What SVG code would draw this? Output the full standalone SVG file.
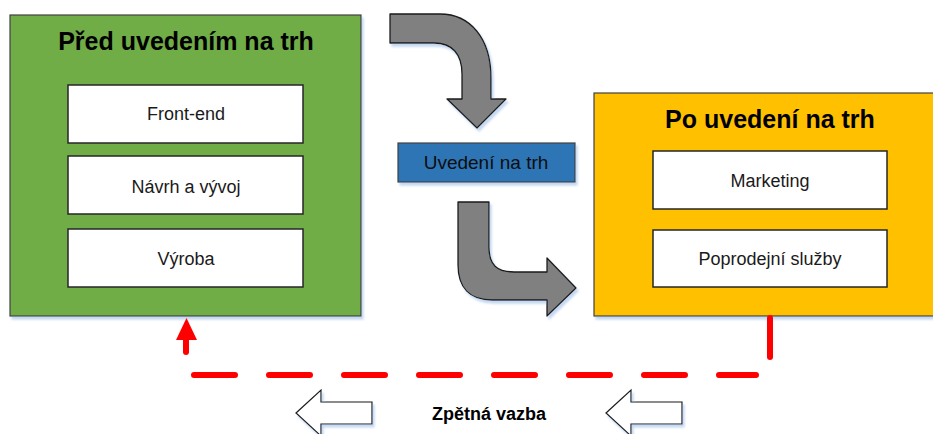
<svg xmlns="http://www.w3.org/2000/svg" width="933" height="434" viewBox="0 0 933 434">
<defs>
<filter id="sh" x="-10%" y="-10%" width="130%" height="130%">
<feDropShadow dx="2" dy="3" stdDeviation="1" flood-color="#9dbde6" flood-opacity="0.6"/>
</filter>
<style>
.box{stroke:#404040;stroke-width:1.2;filter:url(#sh)}
.inner{fill:#ffffff;stroke:#262626;stroke-width:1.5}
.title{font-family:"Liberation Sans",Arial,sans-serif;font-weight:bold;font-size:25px;fill:#000;text-anchor:middle}
.lbl{font-family:"Liberation Sans",Arial,sans-serif;font-size:18px;fill:#1a1a1a;text-anchor:middle}
.garrow{fill:#808080;stroke:#1a1a1a;stroke-width:1.3;stroke-linejoin:round;filter:url(#sh)}
.warrow{fill:#ffffff;stroke:#1a1a1a;stroke-width:1.2;filter:url(#sh)}
.red{stroke:#ff0000;stroke-width:6;fill:none;stroke-linecap:round}
</style>
</defs>
<rect width="933" height="434" fill="#ffffff"/>

<g id="pred">
<rect class="box" x="10" y="15" width="351" height="301" fill="#70ad47"/>
<text class="title" x="186" y="50">Před uvedením na trh</text>
</g>
<g id="frontend">
<rect class="inner" x="68" y="85" width="235" height="58"/>
<text class="lbl" x="186" y="120">Front-end</text>
</g>
<g id="navrh">
<rect class="inner" x="68" y="156" width="235" height="58"/>
<text class="lbl" x="186" y="193">Návrh a vývoj</text>
</g>
<g id="vyroba">
<rect class="inner" x="68" y="229" width="235" height="58"/>
<text class="lbl" x="186" y="265">Výroba</text>
</g>

<g id="po">
<rect class="box" x="594" y="93" width="340" height="223" fill="#ffc000"/>
<text class="title" x="770" y="128">Po uvedení na trh</text>
</g>
<g id="marketing">
<rect class="inner" x="653" y="151" width="234" height="58"/>
<text class="lbl" x="770" y="187">Marketing</text>
</g>
<g id="poprodejni">
<rect class="inner" x="653" y="230" width="234" height="57"/>
<text class="lbl" x="770" y="265">Poprodejní služby</text>
</g>

<g id="uvedeni">
<rect x="398" y="143" width="177" height="39" fill="#2e75b6" stroke="#404040" stroke-width="1.2" filter="url(#sh)"/>
<text class="lbl" x="486" y="169" style="font-size:19px;fill:#0d0d0d">Uvedení na trh</text>
</g>

<g id="connectors">
<path class="garrow" d="M390,14 L440,14 C470,14 491,38 491,78 L491,99 L506,99 L477,128 L447,99 L462,99 L462,74 C462,54 452,43 434,43 L390,43 Z"/>
<path class="garrow" d="M458,202 L489,202 L489,247 C489,265 497,272 514,272 L547,272 L547,258 L576,288 L547,316 L547,300 L492,300 C470,300 458,288 458,265 Z"/>
<line class="red" x1="770" y1="318" x2="770" y2="357"/>
<line class="red" x1="194" y1="375" x2="756" y2="375" stroke-dasharray="41 34" stroke-linecap="round"/>
<line class="red" x1="186" y1="352" x2="186" y2="336"/>
<polygon points="176,340 197,340 186.5,318" fill="#ff0000"/>
<path class="warrow" d="M296,413 L321,390 L321,402 L372,402 L372,424 L321,424 L321,436 Z"/>
<path class="warrow" d="M606,413 L631,390 L631,402 L682,402 L682,424 L631,424 L631,436 Z"/>
</g>

<g id="feedback">
<text x="489" y="420" font-family="Liberation Sans,Arial,sans-serif" font-weight="bold" font-size="18" text-anchor="middle" fill="#000">Zpětná vazba</text>
</g>
</svg>
